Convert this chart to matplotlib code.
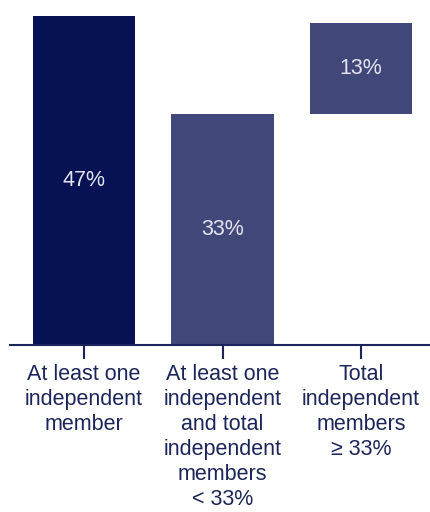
import matplotlib.pyplot as plt

labels = ['At least one\nindependent\nmember',
          'At least one\nindependent\nand total\nindependent\nmembers\n< 33%',
          'Total\nindependent\nmembers\n≥ 33%']
values = [47, 33, 13]
bottoms = [0, 0, 33]
colors = ['#061254', '#42477a', '#42477a']

navy = '#1c2559'
plt.rcParams['font.family'] = ['Liberation Sans', 'DejaVu Sans']

fig = plt.figure(figsize=(4.31, 5.12), dpi=100)
ax = fig.add_axes([10 / 431, 1 - 345 / 512, 421 / 431, 335 / 512])

x = range(len(values))
bars = ax.bar(x, values, bottom=bottoms, width=0.737, color=colors)
for b, v in zip(bars, values):
    ax.text(b.get_x() + b.get_width() / 2, b.get_y() + b.get_height() / 2,
            f'{v}%', ha='center', va='center', color='#e4e4f2', fontsize=15.5)

ax.set_xlim(-0.534, 2.505)
ax.set_ylim(0, 47.86)
ax.set_xticks(list(x))
ax.set_xticklabels(labels, fontsize=15.5, color=navy, linespacing=1.25, va='top')
ax.tick_params(axis='x', length=10, width=1.5, color=navy, pad=4)
ax.set_yticks([])
for s in ['top', 'right', 'left']:
    ax.spines[s].set_visible(False)
ax.spines['bottom'].set_color(navy)
ax.spines['bottom'].set_linewidth(1.5)

fig.savefig('out.png', dpi=100)
